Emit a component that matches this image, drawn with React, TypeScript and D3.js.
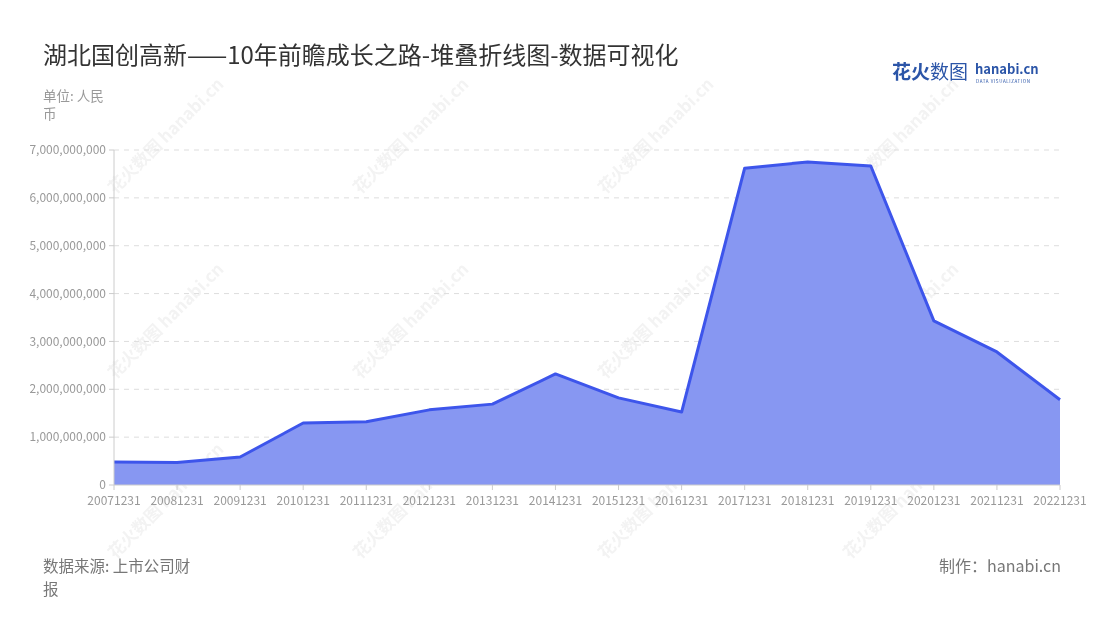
import React from "react";
import * as d3 from "d3";

const categories = ["20071231","20081231","20091231","20101231","20111231","20121231","20131231","20141231","20151231","20161231","20171231","20181231","20191231","20201231","20211231","20221231"];
const values = [480e6, 470e6, 585e6, 1295e6, 1320e6, 1570e6, 1690e6, 2320e6, 1820e6, 1525e6, 6620e6, 6750e6, 6665e6, 3430e6, 2780e6, 1780e6];
const yTicks = [0, 1e9, 2e9, 3e9, 4e9, 5e9, 6e9, 7e9];

const W = 1100, H = 620;
const M = { left: 114, right: 1060, top: 150, bottom: 485 };
const FONT = "'Noto Sans CJK SC', 'Noto Sans', sans-serif";

export default function App() {
  const x = d3.scalePoint<string>().domain(categories).range([M.left, M.right]);
  const y = d3.scaleLinear().domain([0, 7e9]).range([M.bottom, M.top]);
  const fmt = d3.format(",");
  const line = d3.line<number>().x((_, i) => x(categories[i])!).y(d => y(d));
  const area = d3.area<number>().x((_, i) => x(categories[i])!).y0(y(0)).y1(d => y(d));

  const wmX = [170, 415, 660, 905];
  const wmY = [140, 325, 505];

  return (
    <svg width={W} height={H} style={{ position: "absolute", left: 0, top: 0, fontFamily: FONT }}>
      <rect width={W} height={H} fill="#fff" />
      {/* watermarks */}
      <g opacity={0.06} fill="#333">
        {wmY.map(wy => wmX.map(wx => (
          <g key={wx + "-" + wy} transform={`translate(${wx},${wy}) rotate(-45)`}>
            <text x={0} y={0} fontSize={17} fontWeight={700} textAnchor="middle">花火数图 hanabi.cn</text>
          </g>
        )))}
      </g>
      {/* title */}
      <text x={43} y={64} fontSize={24} fill="#333">湖北国创高新——10年前瞻成长之路-堆叠折线图-数据可视化</text>
      <text x={43} y={101} fontSize={13.5} fill="#999">单位: 人民</text>
      <text x={43} y={119} fontSize={13.5} fill="#999">币</text>
      {/* logo */}
      <text x={892} y={79} fontSize={19} fontWeight={700} fill="#2b55a8">花火<tspan fontWeight={400}>数图</tspan></text>
      <text x={975} y={74} fontSize={13} fontWeight={700} fill="#2b55a8">hanabi.cn</text>
      <text x={976} y={83} fontSize={4.5} fill="#2b55a8" letterSpacing={0.6}>DATA VISUALIZATION</text>
      {/* grid */}
      {yTicks.filter(t => t > 0).map(t => (
        <line key={t} x1={M.left} x2={M.right} y1={y(t)} y2={y(t)} stroke="#ddd" strokeDasharray="5,5" />
      ))}
      {/* area & line */}
      <path d={area(values)!} fill="#8797f2" />
      <path d={line(values)!} fill="none" stroke="#3d55eb" strokeWidth={3} strokeLinejoin="round" />
      {/* axes */}
      <line x1={M.left} x2={M.left} y1={M.top} y2={M.bottom} stroke="#ccc" />
      <line x1={M.left} x2={M.right} y1={M.bottom} y2={M.bottom} stroke="#ccc" />
      {yTicks.map(t => (
        <g key={t}>
          <line x1={M.left - 5} x2={M.left} y1={y(t)} y2={y(t)} stroke="#ccc" />
          <text x={M.left - 8} y={y(t)} dy="0.35em" fontSize={12} fill="#999" textAnchor="end">{fmt(t)}</text>
        </g>
      ))}
      {categories.map(c => (
        <g key={c}>
          <line x1={x(c)!} x2={x(c)!} y1={M.bottom} y2={M.bottom + 5} stroke="#ccc" />
          <text x={x(c)!} y={M.bottom + 20} fontSize={12} fill="#999" textAnchor="middle">{c}</text>
        </g>
      ))}
      {/* footer */}
      <text x={43} y={572} fontSize={15.5} fill="#777">数据来源: 上市公司财</text>
      <text x={43} y={595} fontSize={15.5} fill="#777">报</text>
      <text x={1061} y={572} fontSize={16} fill="#777" textAnchor="end">制作：hanabi.cn</text>
    </svg>
  );
}
